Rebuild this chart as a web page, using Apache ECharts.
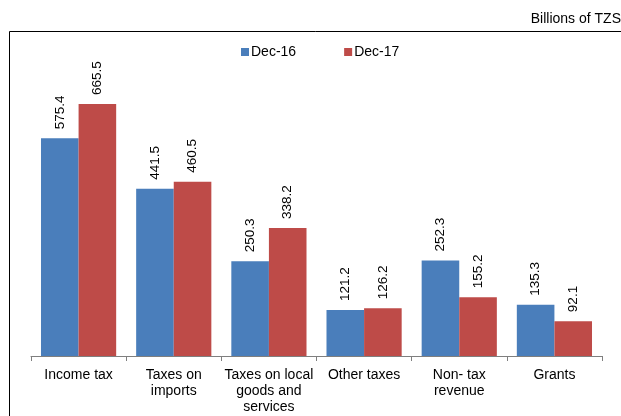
<!DOCTYPE html>
<html><head><meta charset="utf-8">
<script src="https://cdn.jsdelivr.net/npm/echarts@6/dist/echarts.min.js"></script>
<style>html,body{margin:0;padding:0;background:#fff;}#c{width:621px;height:416px;}</style>
</head><body><div id="c"></div>
<script>
var categories = ['Income tax', 'Taxes on\nimports', 'Taxes on local\ngoods and\nservices', 'Other taxes', 'Non- tax\nrevenue', 'Grants'];
var dec16 = [575.4, 441.5, 250.3, 121.2, 252.3, 135.3];
var dec17 = [665.5, 460.5, 338.2, 126.2, 155.2, 92.1];
var seriesNames = ['Dec-16', 'Dec-17'];

var font = 'Liberation Sans, Arial, sans-serif';
var chart = echarts.init(document.getElementById('c'));
var lbl = {show: true, position: 'top', rotate: 90, align: 'left', verticalAlign: 'middle', distance: 9, color: '#000', fontSize: 13.5, fontFamily: font, formatter: function(p){return p.value.toFixed(1);}};
chart.setOption({
  animation: false,
  backgroundColor: '#fff',
  graphic: [
    {type: 'rect', shape: {x: 9.5, y: 31.5, width: 700, height: 500}, style: {fill: 'none', stroke: '#000', lineWidth: 1}, z: 0},
    {type: 'text', right: 0, top: 12, style: {text: 'Billions of TZS', fill: '#000', font: '14px ' + font}}
  ],
  legend: {top: 40, left: 236, itemWidth: 8, itemHeight: 8, itemGap: 48, icon: 'rect',
    textStyle: {fontSize: 14, fontFamily: font, color: '#000', padding: [0, 0, 0, -3]}, data: seriesNames},
  grid: {left: 31, right: 19, top: 91, bottom: 60, containLabel: false},
  xAxis: {type: 'category', data: categories,
    axisLine: {lineStyle: {color: '#7f7f7f', width: 1}},
    axisTick: {show: true, length: 5, lineStyle: {color: '#7f7f7f'}},
    axisLabel: {color: '#000', fontSize: 14, fontFamily: font, lineHeight: 16, margin: 11, interval: 0}},
  yAxis: {type: 'value', min: 0, max: 700, show: false, splitLine: {show: false}},
  series: [
    {name: seriesNames[0], type: 'bar', data: dec16, barGap: '0%', barCategoryGap: '21%', itemStyle: {color: '#4A7EBB'}, label: lbl},
    {name: seriesNames[1], type: 'bar', data: dec17, barGap: '0%', barCategoryGap: '21%', itemStyle: {color: '#BE4B48'}, label: lbl}
  ]
});
</script></body></html>
